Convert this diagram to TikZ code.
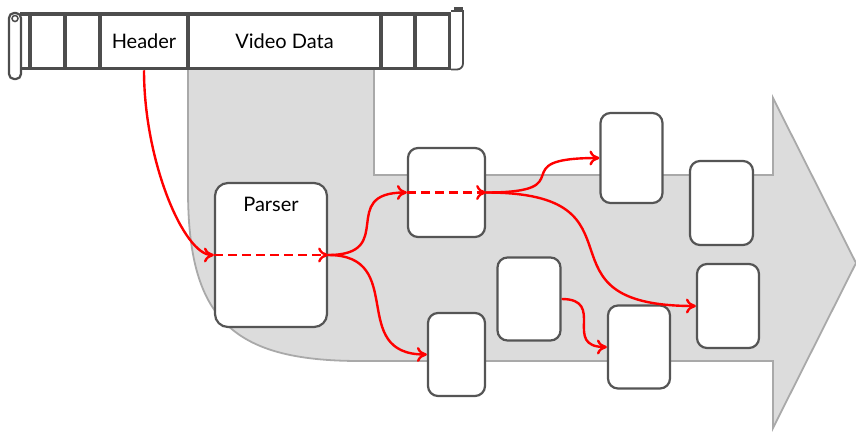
\documentclass[tikz,border=0pt]{standalone}
\usepackage{fontspec}
\setmainfont{Lato}
\usetikzlibrary{arrows.meta}
\definecolor{bandfill}{HTML}{DCDCDC}
\definecolor{bandline}{HTML}{A9A9A9}
\definecolor{boxline}{HTML}{555555}
\definecolor{scrollline}{HTML}{4D4D4D}
\tikzset{
  stage/.style={draw=boxline, line width=2.2pt, fill=white, rounded corners=10pt, inner sep=0pt},
  cell/.style={draw=scrollline, line width=3.4pt, fill=white, minimum height=54.5pt, inner sep=0pt,
    font=\fontsize{20}{22}\selectfont},
  flow/.style={draw=red, line width=2.4pt, -{To[length=10pt,width=15pt]}},
  innerflow/.style={flow, dash pattern=on 9pt off 5pt},
}
\begin{document}
\begin{tikzpicture}[x=1pt,y=-1pt]
\useasboundingbox (0,0) rectangle (856,434);

% grey band with arrow head
\draw[fill=bandfill, draw=bandline, line width=1.8pt, line join=miter]
  (188,68) -- (188,190) .. controls (188,318) and (231,361) .. (360,361)
  -- (773,361) -- (773,428) -- (856,263) -- (773,98) -- (773,175)
  -- (374,175) -- (374,68) -- cycle;

% scroll: left roll
\draw[draw=scrollline, line width=3.4pt] (20,14) -- (30,14) (20,68.5) -- (30,68.5);
\draw[draw=scrollline, line width=2.2pt, fill=white, rounded corners=5pt] (9,13) rectangle (21,79);
\draw[draw=scrollline, line width=1.5pt, fill=white] (15,18.5) circle (3pt);

% scroll: cells
\node[cell, minimum width=35pt] (c1) at (47.5,41.3) {};
\node[cell, minimum width=35pt] (c2) at (82.5,41.3) {};
\node[cell, minimum width=88pt] (header) at (144,41.3) {Header};
\node[cell, minimum width=193pt] (video) at (284.5,41.3) {Video Data};
\node[cell, minimum width=34pt] (c5) at (398,41.3) {};
\node[cell, minimum width=35pt] (c6) at (432.5,41.3) {};

% scroll: right roll
\draw[draw=scrollline, line width=1.8pt, fill=white] (451,11) -- (463,11)
  [rounded corners=6pt] -- (463,69.5) -- (451,69.5);
\fill[scrollline] (454,7) rectangle (463,12);

% stages
\node[stage, rounded corners=13pt, minimum width=112pt, minimum height=144pt] (parser) at (271,255) {};
\node[font=\fontsize{20}{22}\selectfont] (parsertitle) at ([yshift=-23pt]parser.north) {Parser};
\node[stage, minimum width=77pt, minimum height=89pt] (a) at (446.5,192.5) {};
\node[stage, minimum width=62pt, minimum height=90pt] (b) at (631.5,158) {};
\node[stage, minimum width=63pt, minimum height=84pt] (c) at (721.5,203) {};
\node[stage, minimum width=62pt, minimum height=84pt] (d) at (728,306) {};
\node[stage, minimum width=63pt, minimum height=83pt] (e) at (529,299) {};
\node[stage, minimum width=62pt, minimum height=83pt] (f) at (639,347) {};
\node[stage, minimum width=57pt, minimum height=83pt] (g) at (456.5,354.5) {};

% data flow
\draw[flow] (header.south) .. controls +(0,91) and +(-30,0) .. (parser.west);
\draw[innerflow] (parser.west) -- (parser.east);
\draw[flow] (parser.east) .. controls +(70,0) and +(-70,0) .. (a.west);
\draw[flow] (parser.east) .. controls +(80,0) and +(-80,0) .. (g.west);
\draw[innerflow] (a.west) -- (a.east);
\draw[flow] (a.east) .. controls +(100,0) and +(-100,0) .. (b.west);
\draw[flow] (a.east) .. controls +(170,0) and +(-170,0) .. (d.west);
\draw[flow] (e.east) .. controls +(45,0) and +(-45,0) .. (f.west);
\end{tikzpicture}
\end{document}
